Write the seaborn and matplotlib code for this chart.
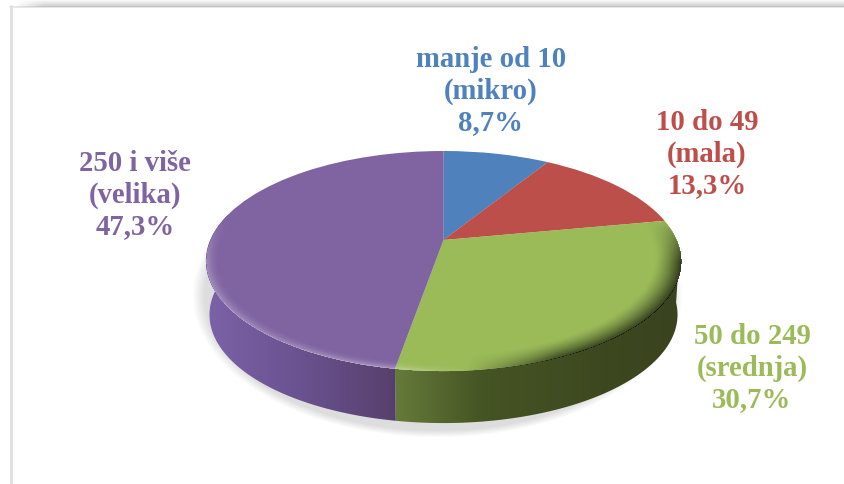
import numpy as np
import matplotlib
matplotlib.use('Agg')
import matplotlib.pyplot as plt
import seaborn as sns
from matplotlib.patches import Polygon
from matplotlib.transforms import Transform

categories = ['manje od 10\n(mikro)', '10 do 49\n(mala)', '50 do 249\n(srednja)', '250 i više\n(velika)']
shares = [8.7, 13.3, 30.7, 47.3]
share_labels = ['8,7%', '13,3%', '30,7%', '47,3%']
colors = sns.color_palette(['#4f81bd', '#bd4f4b', '#9bbb59', '#8064a2'])

label_pos = [(491, 91), (707, 154), (752, 368), (135, 195)]

# perspective of the tilted disc, in pixels of the picture
CX, CY = 443.5, 241
K, SY, AX = 0.191, 106, 233.2
WALL_DROP, WALL_SCALE = 54, 0.985


class Tilt(Transform):
    input_dims = 2
    output_dims = 2

    def __init__(self, drop=0, scale=1):
        super().__init__()
        self.drop = drop
        self.scale_by = scale

    def transform_non_affine(self, values):
        x, y = values[:, 0], values[:, 1]
        w = 1 + K * y
        return np.column_stack([CX + self.scale_by * AX * x / w,
                                CY + self.drop - self.scale_by * SY * y / w])


sns.set_theme(style='white')
fig = plt.figure(figsize=(8.45, 4.85), dpi=100)
ax = fig.add_axes([0, 0, 1, 1])

wedges, _ = ax.pie(shares, colors=colors, startangle=90, counterclock=False,
                   wedgeprops={'linewidth': 0})
ax.set_aspect('auto')
for w in wedges:
    w.set_transform(Tilt() + ax.transData)
    w.set_zorder(5)

# soft shadow under the pie
px, py = np.meshgrid(np.arange(0, 845), np.arange(0, 485))
d = np.sqrt(((px - 437) / 245) ** 2 + ((py - 296) / 142) ** 2)
shadow = np.zeros(px.shape + (4,))
shadow[..., :3] = 0.87
shadow[..., 3] = np.clip((1.0 - d) / 0.05, 0, 1)
ax.imshow(shadow, extent=(0, 845, 485, 0), aspect='auto', zorder=1)

# side wall, only the two front slices show it
wall_stops = {
    2: ([397, 480, 600, 682], ['#647a3a', '#465524', '#3d4820', '#39431e']),
    3: ([205, 300, 397], ['#7c62a8', '#6a5290', '#573f6c']),
}
tilt_top, tilt_bottom = Tilt(), Tilt(WALL_DROP, WALL_SCALE)
for i, (xs, cols) in wall_stops.items():
    if i == 2:
        a = np.radians(np.linspace(wedges[i].theta1, wedges[i].theta1 + 95, 120))
    else:
        a = np.radians(np.linspace(wedges[i].theta2 - 95, wedges[i].theta2, 120))
    ring = np.column_stack([np.cos(a), np.sin(a)])
    poly = np.vstack([tilt_top.transform(ring), tilt_bottom.transform(ring)[::-1]])
    rgb = np.array([matplotlib.colors.to_rgb(c) for c in cols])
    grid = np.arange(200, 690)
    grad = np.stack([np.interp(grid, xs, rgb[:, j]) for j in range(3)], axis=-1)[None, :, :]
    im = ax.imshow(grad, extent=(200, 690, 430, 200), aspect='auto', zorder=3)
    clip = Polygon(poly, closed=True, transform=ax.transData, facecolor='none', edgecolor='none')
    ax.add_patch(clip)
    im.set_clip_path(clip)

# bevel along the rim of the top face
X, Y = px - CX, CY - py
ny = Y / (SY - K * Y)
nx = X * (1 + K * ny) / AX
r = np.hypot(nx, ny)
light = np.clip((r - 0.945) / 0.055, 0, 1) ** 2
dark = np.clip((r - 0.89) / 0.11, 0, 1) ** 1.4
shade = np.where(nx < 0.08,
                 light * np.interp(nx, [-1, -0.6, -0.17, 0.08], [0.28, 0.28, 0.36, 0]),
                 -dark * np.interp(nx, [0.08, 0.4, 1], [0, 0.62, 0.7]))
shade = shade * np.clip((0.2 - ny) / 0.4, 0, 1)
bevel = np.zeros(px.shape + (4,))
bevel[..., :3] = (shade > 0)[..., None] * 1.0
bevel[..., 3] = np.abs(shade) * (r <= 1.0)
ax.imshow(bevel, extent=(0, 845, 485, 0), aspect='auto', zorder=6)

# labels
for name, share, col, (lx, ly) in zip(categories, share_labels, colors, label_pos):
    ax.text(lx, ly, name + '\n' + share, color=col, ha='center', va='center',
            family='Liberation Serif', weight='bold', fontsize=20.7, linespacing=1.21, zorder=8)

# frame of the pasted picture
ax.plot([11, 11], [7, 485], color='#e2e2e2', lw=2.2, zorder=2)
ax.plot([10, 845], [7.5, 7.5], color='#e2e2e2', lw=1.2, zorder=2)
fade = np.zeros((8, 845, 4))
fade[..., :3] = 0.72
fade[..., 3] = (np.linspace(0, 0.7, 8)[:, None] * np.clip((np.arange(845) - 14) / 30, 0, 1))
ax.imshow(fade, extent=(0, 845, 8, 0), aspect='auto', zorder=2)

ax.set_xlim(0, 845)
ax.set_ylim(485, 0)
ax.axis('off')
fig.savefig('out.png', dpi=100)
